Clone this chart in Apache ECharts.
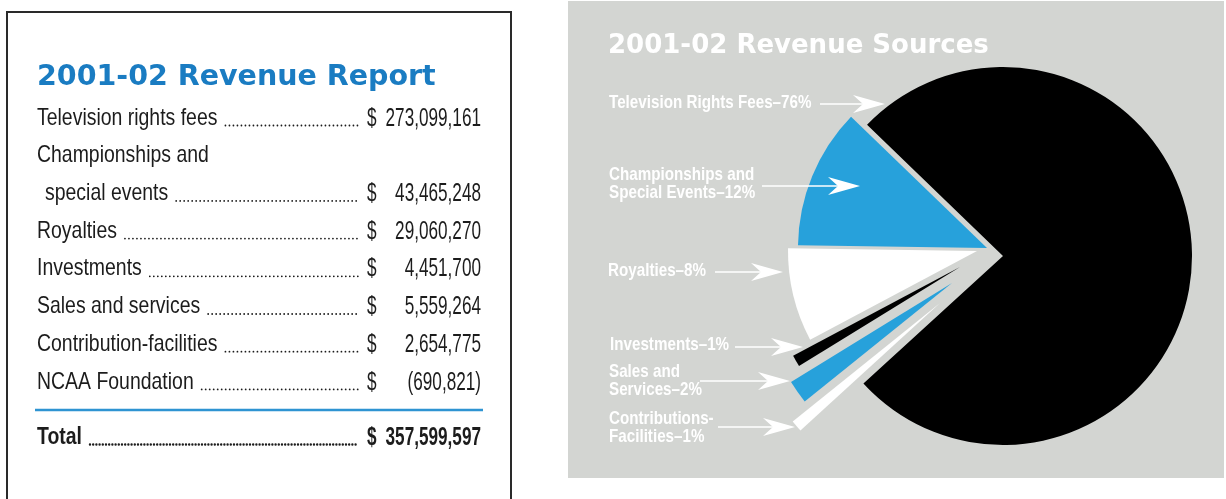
<!DOCTYPE html>
<html>
<head>
<meta charset="utf-8">
<title>2001-02 Revenue</title>
<script src="https://cdn.jsdelivr.net/npm/echarts@6/dist/echarts.min.js"></script>
<style>
  html, body { margin: 0; padding: 0; background: #fff; }
  #chart { width: 1226px; height: 499px; }
</style>
</head>
<body>
<div id="chart"></div>
<script>
// revenue report (left table)
const revItems = [
  'Television rights fees',
  'Championships and\nspecial events',
  'Royalties',
  'Investments',
  'Sales and services',
  'Contribution-facilities',
  'NCAA Foundation'
];
const revAmounts = [273099161, 43465248, 29060270, 4451700, 5559264, 2654775, -690821];

// revenue sources (right pie), clockwise starting from TV
const sliceNames = [
  'Television Rights Fees',
  'Contributions-\nFacilities',
  'Sales and\nServices',
  'Investments',
  'Royalties',
  'Championships and\nSpecial Events'
];
const sliceShares = [76, 1, 2, 1, 8, 12];

// layout / style
const sliceColors = ['#000000', '#ffffff', '#27a1db', '#000000', '#ffffff', '#27a1db'];
const pieCenter = [1003, 256];
const pieRadius = 189;
// how far each slice is pulled away from the pie (px)
const sliceShift = [[0, 0], [-63, 47], [-51, 27], [-43, 11], [-26, -5], [-16, -8]];
// [label x, label middle y, arrow start x, arrow tip x, arrow y]
const calloutPos = [
  [609, 103, 820, 885, 104],
  [609, 428, 718, 795, 427],
  [609, 381, 700, 790, 381],
  [610, 345, 735, 803, 347],
  [608, 271, 715, 783, 272],
  [609, 184, 762, 860, 186]
];

const chart = echarts.init(document.getElementById('chart'));

const measure = document.createElement('canvas').getContext('2d');
function textWidth(str, font) {
  measure.font = font;
  return measure.measureText(str).width;
}
function money(n) {
  const s = Math.abs(n).toLocaleString('en-US');
  return n < 0 ? '(' + s + ')' : s;
}
function txt(text, x, y, font, fill, align, scale, z, lineHeight) {
  return {
    type: 'text', x: x, y: y, scaleX: scale || 1, z: z || 5,
    style: {
      text: text, font: font, fill: fill,
      textAlign: align || 'left', align: align || 'left',
      textVerticalAlign: 'middle', verticalAlign: 'middle',
      lineHeight: lineHeight
    }
  };
}

const els = [];
const ink = '#1c1c1c';
const rowFont = '24px "Liberation Sans"';
const boldRowFont = 'bold 24px "Liberation Sans"';
const numFont = '26px "Liberation Sans"';
const boldNumFont = 'bold 26px "Liberation Sans"';
const rowScale = 0.81, numScale = 0.66;
const rowTop = 118, rowStep = 37.7;

// box round the table
els.push({ type: 'rect', z: 1, shape: { x: 7, y: 12, width: 504, height: 520 },
  style: { fill: 'none', stroke: '#2a2a2a', lineWidth: 2 } });
els.push(txt('2001-02 Revenue Report', 37, 78, 'bold 28.5px "DejaVu Sans"', '#1a7cc2', 'left', 1));

function leaderRow(label, x, y, amount, bold) {
  const font = bold ? boldRowFont : rowFont;
  els.push(txt(label, x, y, font, ink, 'left', rowScale));
  const start = x + textWidth(label, font) * rowScale + 8;
  els.push({ type: 'line', z: 5, shape: { x1: start, y1: y + 7.5, x2: 358, y2: y + 7.5 },
    style: { stroke: ink, lineWidth: bold ? 2.4 : 1.8, lineDash: [0, bold ? 3.2 : 4], lineCap: 'round' } });
  els.push(txt('$', 367, y + 0.5, bold ? boldNumFont : numFont, ink, 'left', numScale));
  els.push(txt(money(amount), 481, y + 0.5, bold ? boldNumFont : numFont, ink, 'right', numScale));
}

let line = 0;
revItems.forEach((item, i) => {
  const parts = item.split('\n');
  parts.forEach((p, j) => {
    const y = rowTop + rowStep * line;
    const x = j > 0 ? 45 : 37;
    if (j === parts.length - 1) leaderRow(p, x, y, revAmounts[i], false);
    else els.push(txt(p, x, y, rowFont, ink, 'left', rowScale));
    line++;
  });
});
els.push({ type: 'line', z: 5, shape: { x1: 35, y1: 410, x2: 483, y2: 410 },
  style: { stroke: '#2e94d2', lineWidth: 2.5 } });
leaderRow('Total', 37, 437, revAmounts.reduce((a, b) => a + b, 0), true);

// grey panel behind the pie
els.push({ type: 'rect', z: 0, shape: { x: 568, y: 1, width: 656, height: 477 },
  style: { fill: '#d3d5d2' } });
els.push(txt('2001-02 Revenue Sources', 608, 46, 'bold 26px "DejaVu Sans"', '#ffffff', 'left', 1));

// callouts: label plus arrow
sliceNames.forEach((name, k) => {
  const [lx, ly, ax, tip, ay] = calloutPos[k];
  els.push(txt(name + '\u2013' + sliceShares[k] + '%', lx, ly, 'bold 19px "Liberation Sans"',
    '#ffffff', 'left', 0.8, 10, 18.5));
  els.push({ type: 'line', z: 10, shape: { x1: ax, y1: ay, x2: tip - 20, y2: ay },
    style: { stroke: '#ffffff', lineWidth: 1.6 } });
  els.push({ type: 'polygon', z: 10,
    shape: { points: [[tip, ay], [tip - 32, ay - 9], [tip - 22, ay], [tip - 32, ay + 9]] },
    style: { fill: '#ffffff' } });
});

// one pie per slice, so each slice can be pulled out on its own
const series = sliceNames.map((name, k) => ({
  type: 'pie',
  silent: true,
  animation: false,
  z: 2,
  center: [pieCenter[0] + sliceShift[k][0], pieCenter[1] + sliceShift[k][1]],
  radius: pieRadius,
  startAngle: 136,
  clockwise: true,
  label: { show: false },
  labelLine: { show: false },
  data: sliceShares.map((v, i) => ({
    name: sliceNames[i],
    value: v,
    itemStyle: { color: i === k ? sliceColors[k] : 'rgba(0,0,0,0)', borderWidth: 0 }
  }))
}));

chart.setOption({
  backgroundColor: '#ffffff',
  animation: false,
  graphic: { elements: els },
  series: series
});
</script>
</body>
</html>
